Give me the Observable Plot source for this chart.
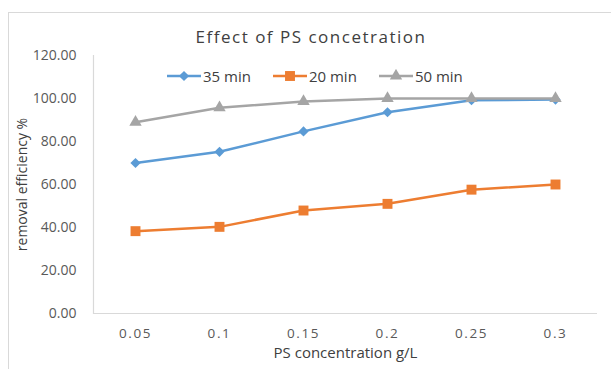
<!DOCTYPE html>
<html>
<head>
<meta charset="utf-8">
<script src="https://cdn.jsdelivr.net/npm/d3@7"></script>
<script src="https://cdn.jsdelivr.net/npm/@observablehq/plot@0.6"></script>
<style>
  html, body { margin: 0; padding: 0; background: #fff; overflow: hidden; }
  #wrap { position: relative; width: 611px; height: 369px; overflow: hidden; font-family: "Open Sans", sans-serif; }
  #border { position: absolute; left: 8px; top: 12px; width: 700px; height: 500px; border: 1px solid #d9d9d9; box-sizing: border-box; }
  #title { position: absolute; left: 0; width: 622px; top: 25px; text-align: center; font-size: 17px; letter-spacing: 1.5px; color: #404040; }
  #legend { position: absolute; top: 66px; left: 167px; display: flex; align-items: center; font-size: 15px; color: #404040; }
  #legend .item { display: flex; align-items: center; margin-right: 22px; }
  #legend svg { display: block; margin-right: 2px; }
  #chart { position: absolute; left: 0; top: 0; }
  #chart svg [aria-label="x-axis tick label"] text { letter-spacing: 1.6px; }
</style>
</head>
<body>
<div id="wrap">
  <div id="border"></div>
  <div id="chart"></div>
  <div id="title"></div>
  <div id="legend"></div>
</div>
<script>
const titleText = "Effect of PS concetration";
const xLabel = "PS concentration g/L";
const yLabel = "removal efficiency %";
const categories = ["0.05", "0.1", "0.15", "0.2", "0.25", "0.3"];
const seriesNames = ["35 min", "20 min", "50 min"];
const min35 = [70.0, 75.2, 84.7, 93.6, 99.2, 99.5];
const min20 = [38.3, 40.3, 47.9, 51.0, 57.6, 60.0];
const min50 = [89.0, 95.7, 98.6, 100.0, 100.0, 100.0];
const yTicks = [0, 20, 40, 60, 80, 100, 120];
const colors = ["#5B9BD5", "#ED7D31", "#A5A5A5"];
const symbols = ["diamond2", "square", "triangle"];
const radii = [4.6, 5.6, 4.6];

const seriesValues = [min35, min20, min50];
const data = [];
seriesNames.forEach((s, i) => {
  categories.forEach((c, j) => data.push({series: s, x: c, y: seriesValues[i][j]}));
});

const marks = [
  Plot.ruleY([0], {stroke: "#d9d9d9", strokeWidth: 1.2}),
  Plot.frame({anchor: "left", stroke: "#d9d9d9", strokeWidth: 1.2}),
  Plot.axisY({ticks: yTicks, tickSize: 0, tickPadding: 17, tickFormat: d => d.toFixed(2), fontSize: 14, fill: "#595959", label: null}),
  Plot.axisX({tickSize: 0, tickPadding: 15, fontSize: 13.5, fill: "#595959", label: null}),
  Plot.text([xLabel], {frameAnchor: "bottom", dy: 44, fontSize: 15, fill: "#404040"}),
  Plot.text([yLabel], {frameAnchor: "left", textAnchor: "middle", dx: -71, rotate: -90, fontSize: 14, fill: "#404040"})
];
seriesNames.forEach((s, i) => {
  const d = data.filter(r => r.series === s);
  marks.push(Plot.lineY(d, {x: "x", y: "y", stroke: colors[i], strokeWidth: 2.5}));
  marks.push(Plot.dot(d, {x: "x", y: "y", fill: colors[i], stroke: null, symbol: () => symbols[i], r: radii[i]}));
});

const chart = Plot.plot({
  width: 611, height: 369,
  marginLeft: 93, marginRight: 14, marginTop: 55, marginBottom: 56,
  style: {fontFamily: "Open Sans, sans-serif", fontSize: "13px", background: "transparent", color: "#595959"},
  x: {type: "band", domain: categories, padding: 0, label: null},
  y: {domain: [0, 120], label: null},
  symbol: {type: "identity"},
  marks
});
document.getElementById("chart").appendChild(chart);
document.getElementById("title").textContent = titleText;

const legend = document.getElementById("legend");
seriesNames.forEach((s, i) => {
  const item = document.createElement("div");
  item.className = "item";
  const sym = d3.symbol(d3["symbol" + {diamond2: "Diamond2", square: "Square", triangle: "Triangle"}[symbols[i]]], Math.PI * radii[i] * radii[i])();
  item.innerHTML = `<svg width="34" height="14"><line x1="0" x2="34" y1="7" y2="7" stroke="${colors[i]}" stroke-width="2.5"/><path d="${sym}" transform="translate(17,7)" fill="${colors[i]}"/></svg><span>${s}</span>`;
  legend.appendChild(item);
});
</script>
</body>
</html>
